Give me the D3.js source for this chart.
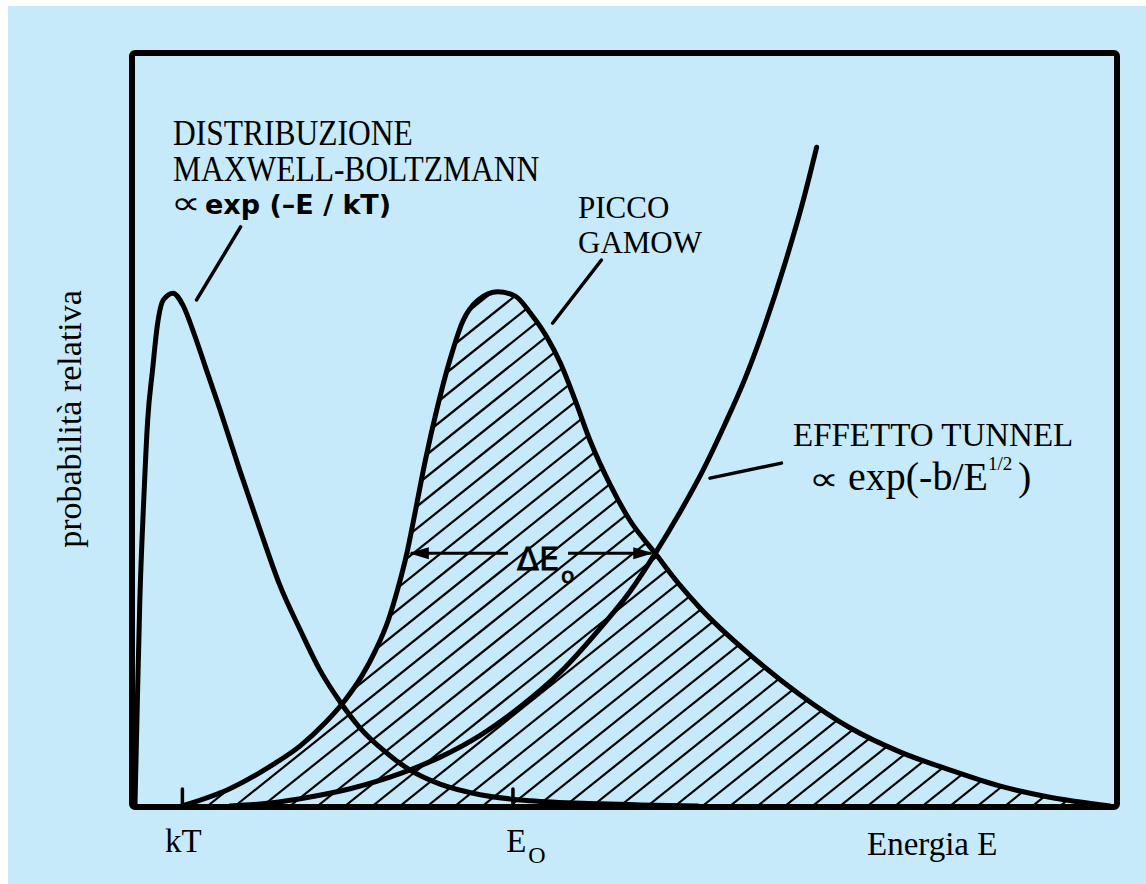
<!DOCTYPE html>
<html>
<head>
<meta charset="utf-8">
<script src="https://cdn.jsdelivr.net/npm/d3@7"></script>
<style>
  html, body { margin: 0; padding: 0; background: #ffffff; }
  svg { display: block; }
</style>
</head>
<body>
<svg id="chart" width="1146" height="884"></svg>
<script>
// Energy (arbitrary units, 0-100) and relative probability (0-100)

// Maxwell-Boltzmann distribution
const mbEnergy = [0.2, 0.4, 0.7, 1.1, 1.5, 2.0, 2.5, 3.1, 4.1, 5.1, 6.3, 7.4, 8.9, 10.9, 13.0, 15.0, 17.1, 19.1, 21.2, 23.2, 25.8, 28.3, 31.4, 35.5, 40.6, 47.8, 57.8];
const mbProb   = [0, 11.4, 27.4, 40.7, 51.3, 58.0, 64.0, 67.3, 68.2, 66.6, 62.6, 58.4, 52.7, 44.7, 36.7, 29.4, 23.4, 18.1, 13.8, 10.4, 7.2, 4.8, 2.9, 1.5, 0.7, 0.3, 0];

// Gamow peak (product of the two factors)
const gamowEnergy = [5.0, 9.9, 14.3, 17.1, 19.6, 21.7, 23.4, 24.8, 26.1, 27.1, 28.0, 28.9, 29.9, 31.1, 32.4, 33.7, 35.3, 37.3, 39.1, 40.6, 42.3, 43.7, 45.2, 46.7, 48.8, 50.8, 53.4, 55.9, 58.0, 63.1, 68.2, 73.3, 78.4, 83.5, 88.5, 93.6, 99.9];
const gamowProb   = [0, 2.3, 5.5, 8.0, 11.0, 14.1, 17.3, 20.7, 24.7, 29.0, 33.6, 39.4, 46.0, 52.9, 59.3, 64.4, 67.3, 68.4, 67.8, 65.6, 62.4, 58.9, 54.0, 48.7, 42.7, 38.0, 33.6, 29.4, 26.3, 20.1, 14.8, 10.4, 7.2, 4.8, 2.7, 1.2, 0];

// Tunnel-effect penetration factor
const tunnelEnergy = [9.9, 14.0, 18.1, 22.2, 27.3, 31.4, 35.5, 39.6, 43.7, 47.8, 50.8, 53.4, 55.9, 58.3, 60.5, 62.6, 64.6, 66.7, 68.4, 69.9];
const tunnelProb   = [0, 0.4, 1.2, 2.3, 4.3, 6.5, 9.4, 13.2, 17.8, 23.7, 28.5, 33.6, 39.0, 44.7, 50.7, 56.9, 63.9, 72.3, 79.9, 87.6];

// Width of the Gamow peak (ΔE0) at the given level
const deltaEnergy = [28.0, 53.4];
const deltaLevel = 33.6;

// Axis ticks
const tickEnergy = [5.0, 38.8];
const tickMain = ["kT", "E"];
const tickSub = ["", "O"];

// Leader lines for the labels: [E1, P1, E2, P2]
const leaderMB = [6.5, 67.3, 11.0, 77.0];
const leaderGamow = [42.9, 64.2, 47.9, 72.6];
const leaderTunnel = [59.0, 43.6, 66.3, 45.6];

const W = 1146, H = 884;
const BG = "#c6eaf9";
const INK = "#000000";
const SERIF = "'Liberation Serif', 'Times New Roman', serif";
const SANS = "'DejaVu Sans', sans-serif";

const svg = d3.select("#chart");

// page background (thin white margin top and left)
svg.append("rect").attr("x", 0).attr("y", 0).attr("width", W).attr("height", H).attr("fill", "#ffffff");
svg.append("rect").attr("x", 8).attr("y", 6).attr("width", W - 8).attr("height", H - 6).attr("fill", BG);

const x = d3.scaleLinear().domain([0, 100]).range([133, 1111]);
const y = d3.scaleLinear().domain([0, 100]).range([806, 54]);

const toPts = (es, ps) => es.map((e, i) => ({ e, p: ps[i] }));
const mbPts = toPts(mbEnergy, mbProb);
const gamowPts = toPts(gamowEnergy, gamowProb);
const tunnelPts = toPts(tunnelEnergy, tunnelProb);

const curve = d3.curveMonotoneX;
const line = d3.line().x(d => x(d.e)).y(d => y(d.p)).curve(curve);
const area = d3.area().x(d => x(d.e)).y0(y(0)).y1(d => y(d.p)).curve(curve);

// hatched region under the Gamow peak
const defs = svg.append("defs");
defs.append("clipPath").attr("id", "gamowClip")
  .append("path").attr("d", area(gamowPts));

const hatch = svg.append("g").attr("clip-path", "url(#gamowClip)");
const slope = 0.8, spacing = 27.5, len = 900;
for (let bx = -260; bx < 1150; bx += spacing) {
  hatch.append("line")
    .attr("x1", bx).attr("y1", y(0))
    .attr("x2", bx + len).attr("y2", y(0) - len * slope)
    .attr("stroke", INK).attr("stroke-width", 2.2);
}

// frame
svg.append("rect")
  .attr("x", 132).attr("y", 53).attr("width", 985).attr("height", 754)
  .attr("rx", 3)
  .attr("fill", "none").attr("stroke", INK).attr("stroke-width", 6);

// curves
[mbPts, gamowPts, tunnelPts].forEach(pts => {
  svg.append("path").attr("d", line(pts))
    .attr("fill", "none").attr("stroke", INK)
    .attr("stroke-width", 5).attr("stroke-linejoin", "round").attr("stroke-linecap", "round");
});

// ticks on the energy axis
const axis = d3.axisBottom(x).tickValues(tickEnergy).tickSizeInner(-17).tickSizeOuter(0).tickFormat("");
const gAxis = svg.append("g").attr("transform", `translate(0,${y(0)})`).call(axis);
gAxis.select(".domain").remove();
gAxis.selectAll(".tick line").attr("stroke", INK).attr("stroke-width", 3.5).attr("stroke-linecap", "round");
gAxis.selectAll(".tick text").remove();
const labelShift = [1, 13];
gAxis.selectAll(".tick").each(function (d, i) {
  const t = d3.select(this).append("text")
    .attr("x", labelShift[i]).attr("y", 46)
    .attr("text-anchor", "middle")
    .attr("font-family", SERIF).attr("font-size", 33).attr("fill", INK);
  t.append("tspan").text(tickMain[i]);
  if (tickSub[i]) {
    t.append("tspan").attr("dx", 2).attr("dy", 11).attr("font-size", 24).text(tickSub[i]);
  }
});

svg.append("text").attr("x", 867).attr("y", 855)
  .attr("font-family", SERIF).attr("font-size", 33).attr("fill", INK)
  .text("Energia E");

// y axis title
svg.append("text")
  .attr("transform", "translate(81,419) rotate(-90)")
  .attr("text-anchor", "middle")
  .attr("font-family", SERIF).attr("font-size", 34).attr("fill", INK)
  .text("probabilità relativa");

// leader lines
[leaderMB, leaderGamow, leaderTunnel].forEach(l => {
  svg.append("line")
    .attr("x1", x(l[0])).attr("y1", y(l[1]))
    .attr("x2", x(l[2])).attr("y2", y(l[3]))
    .attr("stroke", INK).attr("stroke-width", 3.5).attr("stroke-linecap", "round");
});

// ΔE0 double arrow
const dy0 = y(deltaLevel);
const xa = x(deltaEnergy[0]), xb = x(deltaEnergy[1]);
const gapL = 508, gapR = 568;
svg.append("line").attr("x1", xa + 4).attr("y1", dy0).attr("x2", gapL).attr("y2", dy0)
  .attr("stroke", INK).attr("stroke-width", 3);
svg.append("line").attr("x1", gapR).attr("y1", dy0).attr("x2", xb - 4).attr("y2", dy0)
  .attr("stroke", INK).attr("stroke-width", 3);
svg.append("path")
  .attr("d", `M${xa + 2},${dy0} L${xa + 22},${dy0 - 6} L${xa + 22},${dy0 + 6} Z`)
  .attr("fill", INK);
svg.append("path")
  .attr("d", `M${xb - 2},${dy0} L${xb - 22},${dy0 - 6} L${xb - 22},${dy0 + 6} Z`)
  .attr("fill", INK);
const dt = svg.append("text").attr("x", 517).attr("y", 570)
  .attr("font-family", SANS).attr("font-size", 32).attr("fill", INK)
  .attr("stroke", INK).attr("stroke-width", 0.8);
dt.append("tspan").text("ΔE");
dt.append("tspan").attr("dx", 2).attr("dy", 13).attr("font-size", 22).text("o");

// Maxwell-Boltzmann label (slightly condensed serif)
svg.append("text").attr("transform", "translate(173,145) scale(0.9,1)")
  .attr("font-family", SERIF).attr("font-size", 35).attr("fill", INK).text("DISTRIBUZIONE");
svg.append("text").attr("transform", "translate(173,181) scale(0.9,1)")
  .attr("font-family", SERIF).attr("font-size", 35).attr("fill", INK).text("MAXWELL-BOLTZMANN");
svg.append("text").attr("transform", "translate(171,214) scale(1.3,1)")
  .attr("font-family", SANS).attr("font-size", 32).attr("fill", INK).text("∝");
svg.append("text").attr("x", 205).attr("y", 214)
  .attr("font-family", SANS).attr("font-weight", "bold").attr("font-size", 27).attr("fill", INK)
  .text("exp (–E / kT)");

// Gamow label
svg.append("text").attr("x", 578).attr("y", 218)
  .attr("font-family", SERIF).attr("font-size", 31).attr("fill", INK).text("PICCO");
svg.append("text").attr("x", 578).attr("y", 253)
  .attr("font-family", SERIF).attr("font-size", 31).attr("fill", INK).text("GAMOW");

// Tunnel label
svg.append("text").attr("x", 793).attr("y", 446)
  .attr("font-family", SERIF).attr("font-size", 33).attr("fill", INK).text("EFFETTO TUNNEL");
svg.append("text").attr("transform", "translate(809,490) scale(1.3,1)")
  .attr("font-family", SANS).attr("font-size", 32).attr("fill", INK).text("∝");
const tf = svg.append("text").attr("x", 848).attr("y", 490).attr("fill", INK);
tf.append("tspan").attr("font-family", SERIF).attr("font-size", 40).text("exp(-b/E");
tf.append("tspan").attr("dy", -20).attr("font-family", SERIF).attr("font-size", 19).text("1/2");
tf.append("tspan").attr("x", 1018).attr("dy", 20).attr("font-family", SERIF).attr("font-size", 40).text(")");
</script>
</body>
</html>
